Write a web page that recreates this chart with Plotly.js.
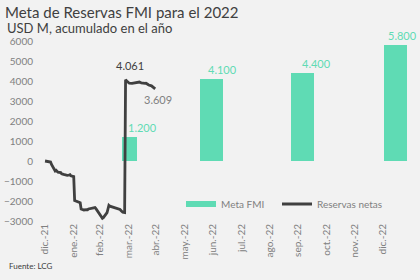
<!DOCTYPE html>
<html>
<head>
<meta charset="utf-8">
<script src="https://cdn.plot.ly/plotly-3.0.1.min.js"></script>
<style>html,body{margin:0;padding:0;background:#f2f2f2;}#chart{width:420px;height:280px;}</style>
</head>
<body>
<div id="chart"></div>
<script>
// ---- data ----
const monthTickDates = ['2021-12-31','2022-01-31','2022-02-28','2022-03-31','2022-04-30','2022-05-31','2022-06-30','2022-07-31','2022-08-31','2022-09-30','2022-10-31','2022-11-30','2022-12-31'];
const monthTickLabels = ['dic.-21','ene.-22','feb.-22','mar.-22','abr.-22','may.-22','jun.-22','jul.-22','ago.-22','sep.-22','oct.-22','nov.-22','dic.-22'];
const yTickValues = [-3000,-2000,-1000,0,1000,2000,3000,4000,5000,6000];

const metaDates = ['2022-04-01','2022-06-28 14:00','2022-10-05 10:00','2023-01-13 12:00'];
const metaValues = [1200, 4100, 4400, 5800];

const reservasDates = ['2021-12-31','2022-01-03','2022-01-05','2022-01-06','2022-01-07','2022-01-10','2022-01-11','2022-01-12','2022-01-13','2022-01-14','2022-01-17','2022-01-18','2022-01-20','2022-01-21','2022-01-24','2022-01-26','2022-01-27','2022-01-28','2022-01-31','2022-02-01','2022-02-02','2022-02-03','2022-02-04','2022-02-07','2022-02-08','2022-02-09','2022-02-10','2022-02-11','2022-02-14','2022-02-15','2022-02-16','2022-02-17','2022-02-18','2022-02-21','2022-02-22','2022-02-23','2022-02-24','2022-02-25','2022-02-28','2022-03-02','2022-03-03','2022-03-04','2022-03-07','2022-03-08','2022-03-09','2022-03-10','2022-03-11','2022-03-14','2022-03-15','2022-03-16','2022-03-17','2022-03-18','2022-03-21','2022-03-22','2022-03-23','2022-03-24','2022-03-25','2022-03-27','2022-03-28','2022-03-29','2022-03-30','2022-03-31','2022-04-01','2022-04-04','2022-04-05','2022-04-06','2022-04-07','2022-04-08','2022-04-11','2022-04-12','2022-04-13','2022-04-14','2022-04-18','2022-04-19','2022-04-20','2022-04-21','2022-04-22','2022-04-25','2022-04-26','2022-04-27','2022-04-28','2022-04-29'];
const reservasValues = [0,-20,-60,-50,-170,-480,-500,-470,-520,-560,-580,-640,-670,-690,-720,-700,-680,-740,-780,-1980,-2000,-2040,-2060,-2090,-2400,-2430,-2440,-2450,-2430,-2440,-2400,-2390,-2380,-2370,-2340,-2330,-2380,-2450,-2650,-2840,-2860,-2830,-2650,-2580,-2400,-2220,-2260,-2300,-2310,-2330,-2330,-2350,-2380,-2420,-2480,-2520,-2560,-2580,4061,4010,3960,3900,3890,3880,3890,3880,3900,3930,3940,3950,3930,3900,3880,3890,3860,3820,3800,3760,3720,3700,3660,3609];

// ---- style ----
const FONT = 'Lato, "Open Sans", sans-serif';
const GREEN = '#5fdbb4';
const DARK = '#404040';
const GREY = '#808080';
const DAY = 86400000;
const W=420,H=280,L=40,R=10,T=41,B=59;
const PW=W-L-R, PH=H-T-B;
const pxX = px => (px-L)/PW;          // container px -> paper x
const pxY = py => (H-B-py)/PH;        // container px -> paper y

function fmt(v){ return String(Math.round(v)).replace(/\B(?=(\d{3})+(?!\d))/g, '.'); }

const peakIdx = reservasValues.indexOf(Math.max(...reservasValues));
const lastIdx = reservasValues.length - 1;
const barLabelShift = [13, 11, 14, 7.5];

const traces = [
  {type:'bar', x: metaDates, y: metaValues, name:'Meta FMI', marker:{color:GREEN},
   width:[16.2*DAY, 24.5*DAY, 24.5*DAY, 24.5*DAY], showlegend:false, hoverinfo:'skip'},
  {type:'scatter', mode:'lines', x:[null], y:[null], name:'Meta FMI', line:{color:GREEN, width:6}, hoverinfo:'skip', legend:'legend'},
  {type:'scatter', mode:'lines', x: reservasDates, y: reservasValues, name:'Reservas netas', line:{color:DARK, width:2.8}, hoverinfo:'skip', legend:'legend2'}
];

const annotations = metaDates.map((d,i)=>({
  x:d, y:metaValues[i], xref:'x', yref:'y', text:fmt(metaValues[i]), showarrow:false,
  xanchor:'center', yanchor:'bottom', xshift:barLabelShift[i], yshift:1, font:{family:FONT, size:11, color:GREEN}
}));
annotations.push({x:reservasDates[peakIdx], y:reservasValues[peakIdx], xref:'x', yref:'y', text:fmt(reservasValues[peakIdx]), showarrow:false, xanchor:'center', yanchor:'middle', xshift:4.5, yshift:14.5, font:{family:FONT, size:11, color:DARK}});
annotations.push({x:reservasDates[lastIdx], y:reservasValues[lastIdx], xref:'x', yref:'y', text:fmt(reservasValues[lastIdx]), showarrow:false, xanchor:'center', yanchor:'middle', xshift:3, yshift:-10.5, font:{family:FONT, size:11, color:GREY}});
annotations.push({x:pxX(5), y:pxY(28), xref:'paper', yref:'paper', text:'USD M, acumulado en el año', showarrow:false, xanchor:'left', yanchor:'middle', font:{family:FONT, size:13, color:DARK}});
annotations.push({x:pxX(7), y:pxY(266), xref:'paper', yref:'paper', text:'Fuente: LCG', showarrow:false, xanchor:'left', yanchor:'middle', font:{family:FONT, size:8, color:DARK}});

const xRange = ['2021-12-25 14:00','2023-01-29 05:00'];
const legendBase = {orientation:'h', xanchor:'left', y:pxY(204), yanchor:'middle', bgcolor:'rgba(0,0,0,0)', font:{family:FONT, size:10, color:GREY}};

const layout = {
  width:W, height:H,
  margin:{l:L, r:R, t:T, b:B, pad:0},
  paper_bgcolor:'#f2f2f2', plot_bgcolor:'#f2f2f2',
  font:{family:FONT, color:GREY, size:10},
  title:{text:'Meta de Reservas FMI para el 2022', x:5/W, xref:'container', xanchor:'left', y:1-12.5/H, yref:'container', yanchor:'middle', font:{family:FONT, size:15, color:DARK}},
  xaxis:{type:'date', range:xRange, tickvals:monthTickDates, ticktext:monthTickLabels, tickangle:-90, showgrid:false, zeroline:false, showline:false, ticks:'', tickfont:{size:10, color:GREY}, fixedrange:true},
  xaxis2:{type:'date', range:xRange, overlaying:'x', anchor:'free', position:1/3, side:'bottom', showline:true, linecolor:'#d9d9d9', linewidth:1, ticks:'inside', ticklen:4, tickcolor:'#d9d9d9', tickvals:monthTickDates, showticklabels:false, showgrid:false, zeroline:false},
  yaxis:{range:[-3000,6000], tickvals:yTickValues, showgrid:false, zeroline:false, showline:false, ticks:'', ticklabelstandoff:6, tickfont:{size:10, color:GREY}, fixedrange:true},
  showlegend:true,
  legend:Object.assign({}, legendBase, {x:pxX(181)}),
  legend2:Object.assign({}, legendBase, {x:pxX(277)}),
  annotations: annotations,
  bargap:0
};

Plotly.newPlot('chart', traces, layout, {staticPlot:true, displayModeBar:false});
</script>
</body>
</html>
